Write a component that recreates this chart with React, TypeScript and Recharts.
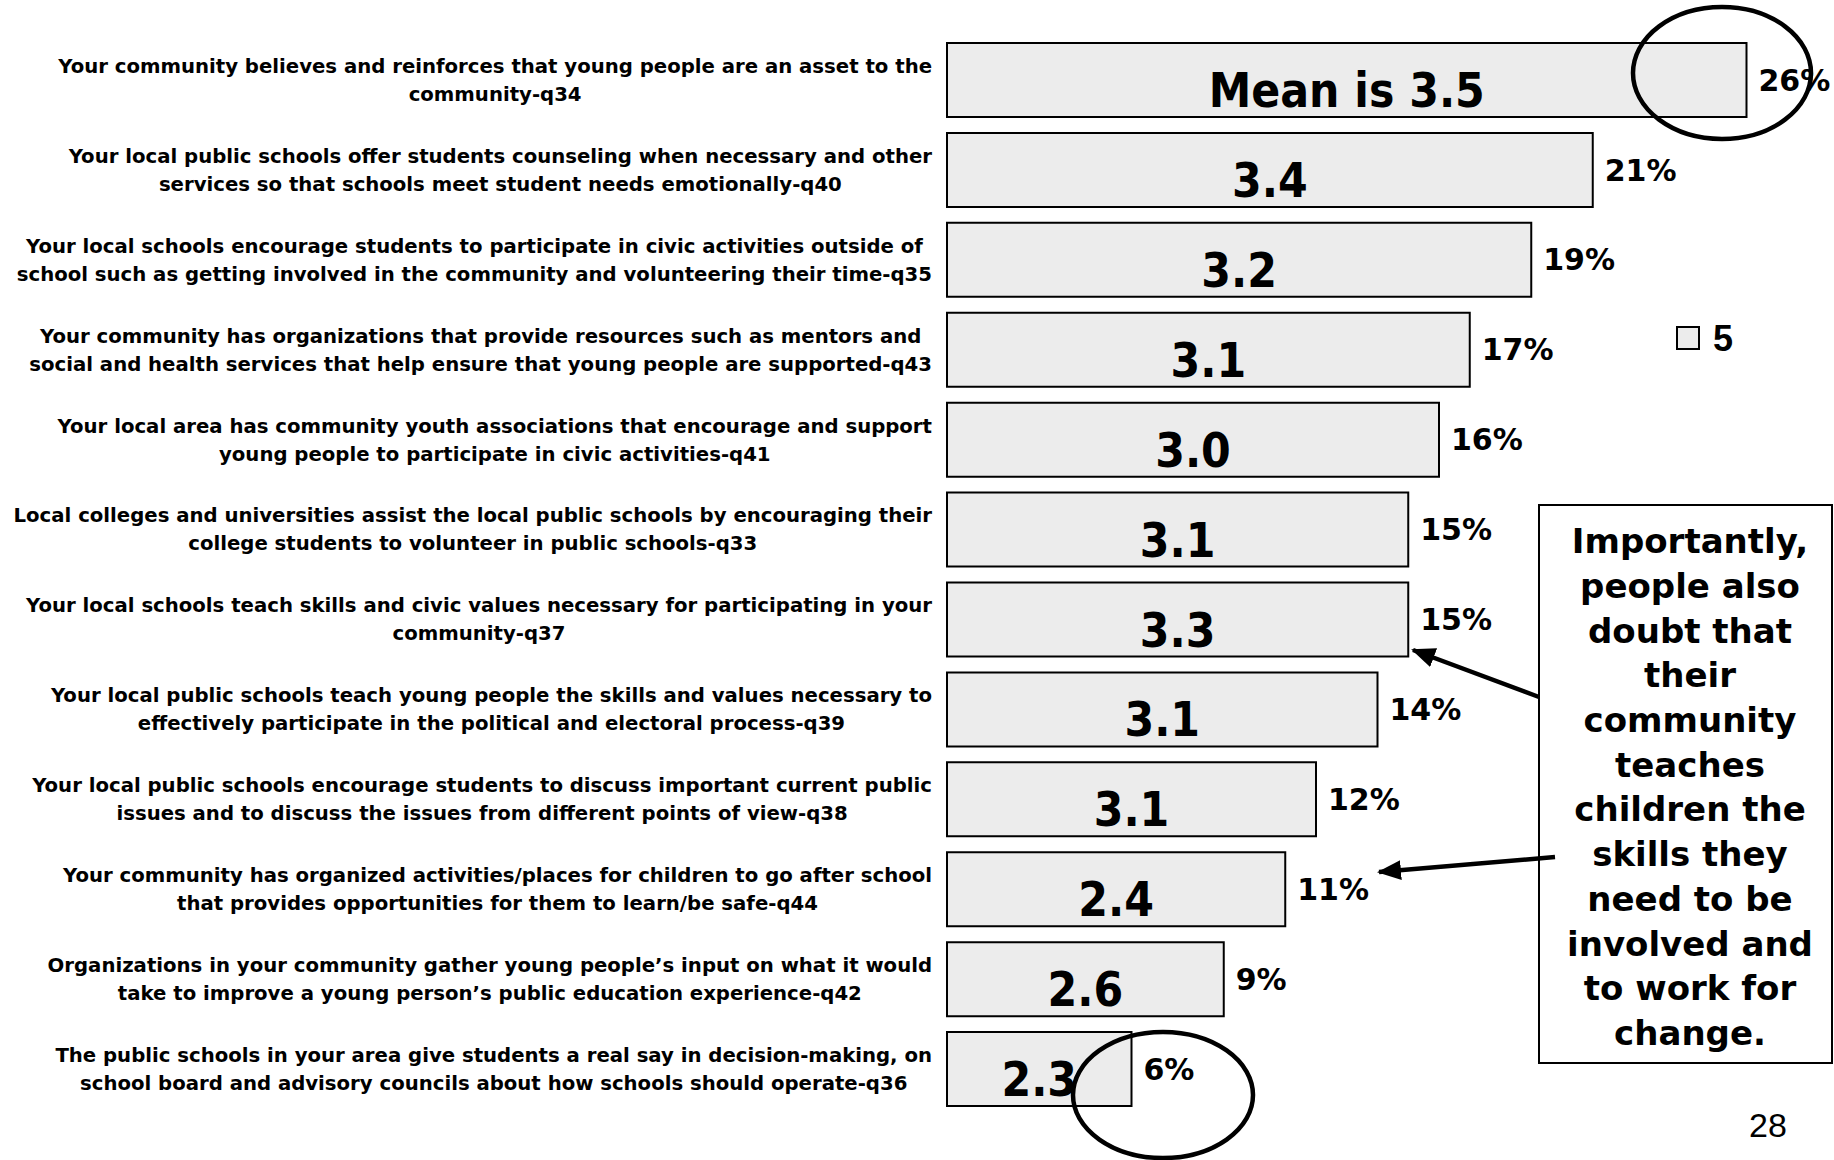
import React from 'react';
import { BarChart, Bar, XAxis, YAxis, LabelList } from 'recharts';

const categories = [
  'Your community believes and reinforces that young people are an asset to the\ncommunity-q34',
  'Your local public schools offer students counseling when necessary and other\nservices so that schools meet student needs emotionally-q40',
  'Your local schools encourage students to participate in civic activities outside of\nschool such as getting involved in the community and volunteering their time-q35',
  'Your community has organizations that provide resources such as mentors and\nsocial and health services that help ensure that young people are supported-q43',
  'Your local area has community youth associations that encourage and support\nyoung people to participate in civic activities-q41',
  'Local colleges and universities assist the local public schools by encouraging their\ncollege students to volunteer in public schools-q33',
  'Your local schools teach skills and civic values necessary for participating in your\ncommunity-q37',
  'Your local public schools teach young people the skills and values necessary to\neffectively participate in the political and electoral process-q39',
  'Your local public schools encourage students to discuss important current public\nissues and to discuss the issues from different points of view-q38',
  'Your community has organized activities/places for children to go after school\nthat provides opportunities for them to learn/be safe-q44',
  'Organizations in your community gather young people\u2019s input on what it would\ntake to improve a young person\u2019s public education experience-q42',
  'The public schools in your area give students a real say in decision-making, on\nschool board and advisory councils about how schools should operate-q36',
];

// share answering 5
const pct5 = [26, 21, 19, 17, 16, 15, 15, 14, 12, 11, 9, 6];
// mean score written inside each bar
const means = [3.5, 3.4, 3.2, 3.1, 3.0, 3.1, 3.3, 3.1, 3.1, 2.4, 2.6, 2.3];

const noteLines = [
  'Importantly,',
  'people also',
  'doubt that',
  'their',
  'community',
  'teaches',
  'children the',
  'skills they',
  'need to be',
  'involved and',
  'to work for',
  'change.',
];

const data = categories.map((name, i) => ({ name, pct: pct5[i], mean: means[i] }));

const FONT = '"DejaVu Sans", Verdana, sans-serif';
const TICK_SIZE = 19.7;

let ctx: CanvasRenderingContext2D | null = null;
const textWidth = (s: string) => {
  if (!ctx) {
    ctx = document.createElement('canvas').getContext('2d');
    if (ctx) ctx.font = `bold ${TICK_SIZE}px ${FONT}`;
  }
  return ctx ? ctx.measureText(s).width : s.length * 11.8;
};

const CategoryTick = (props: any) => {
  const { y, payload } = props;
  const lines = String(payload.value).split('\n');
  const maxW = Math.max(...lines.map(textWidth));
  const cx = 932 - maxW / 2;
  return (
    <text
      x={cx}
      y={y}
      textAnchor="middle"
      fill="#000"
      fontFamily={FONT}
      fontWeight="bold"
      fontSize={TICK_SIZE}
    >
      <tspan x={cx} y={y - 14} dy="0.35em">{lines[0]}</tspan>
      <tspan x={cx} y={y + 14} dy="0.35em">{lines[1]}</tspan>
    </text>
  );
};

const MeanLabel = (props: any) => {
  const { x, y, width, height, value, index } = props;
  const txt = index === 0 ? `Mean is ${Number(value).toFixed(1)}` : Number(value).toFixed(1);
  return (
    <svg x={x} y={y} width={width} height={height} overflow="hidden">
      <text
        transform={`translate(${width / 2},${height - 10}) scale(0.89,1)`}
        textAnchor="middle"
        fill="#000"
        fontFamily={FONT}
        fontWeight="bold"
        fontSize={48}
      >
        {txt}
      </text>
    </svg>
  );
};

export default function App() {
  return (
    <div style={{ position: 'absolute', left: 0, top: 0, width: 1834, height: 1160, background: '#fff' }}>
      <BarChart
        width={1834}
        height={1160}
        data={data}
        layout="vertical"
        margin={{ top: 35, right: 26, bottom: 46, left: 0 }}
      >
        <XAxis type="number" domain={[0, 28]} hide />
        <YAxis
          type="category"
          dataKey="name"
          width={947}
          axisLine={false}
          tickLine={false}
          interval={0}
          tick={<CategoryTick />}
        />
        <Bar dataKey="pct" fill="#ececec" stroke="#000" strokeWidth={2} barSize={74} isAnimationActive={false}>
          <LabelList dataKey="mean" content={<MeanLabel />} />
          <LabelList
            dataKey="pct"
            position="right"
            offset={12}
            formatter={(v: any) => `${v}%`}
            fill="#000"
            fontFamily={FONT}
            fontWeight="bold"
            fontSize={30}
          />
        </Bar>
      </BarChart>

      <svg
        width={1834}
        height={1160}
        style={{ position: 'absolute', left: 0, top: 0, pointerEvents: 'none' }}
      >
        <defs>
          <marker id="head" markerUnits="userSpaceOnUse" markerWidth={24} markerHeight={20} refX={22} refY={10} orient="auto">
            <path d="M0,0 L24,10 L0,20 Z" fill="#000" />
          </marker>
        </defs>

        {/* legend */}
        <rect x={1677} y={327} width={22} height={22} fill="#ececec" stroke="#000" strokeWidth={2} />
        <text x={1713} y={351} fontFamily="'Liberation Sans', Arial, sans-serif" fontWeight="bold" fontSize={36} fill="#000">5</text>

        {/* highlight circles */}
        <ellipse cx={1722} cy={73} rx={89} ry={66} fill="none" stroke="#000" strokeWidth={4.5} />
        <ellipse cx={1163} cy={1095} rx={90} ry={63} fill="none" stroke="#000" strokeWidth={4.5} />

        {/* note box */}
        <rect x={1539} y={505} width={293} height={558} fill="#fff" stroke="#000" strokeWidth={2} />
        {noteLines.map((l, i) => (
          <text
            key={l}
            x={1690}
            y={541 + i * 44.7}
            dy="0.36em"
            textAnchor="middle"
            fontFamily={FONT}
            fontWeight="bold"
            fontSize={34}
            fill="#000"
          >
            {l}
          </text>
        ))}

        {/* arrows */}
        <line x1={1539} y1={697} x2={1413} y2={650} stroke="#000" strokeWidth={4.5} markerEnd="url(#head)" />
        <line x1={1555} y1={857} x2={1379} y2={872} stroke="#000" strokeWidth={4.5} markerEnd="url(#head)" />

        <text x={1749} y={1137} fontFamily="'Liberation Sans', Arial, sans-serif" fontSize={34} fill="#000">28</text>
      </svg>
    </div>
  );
}
